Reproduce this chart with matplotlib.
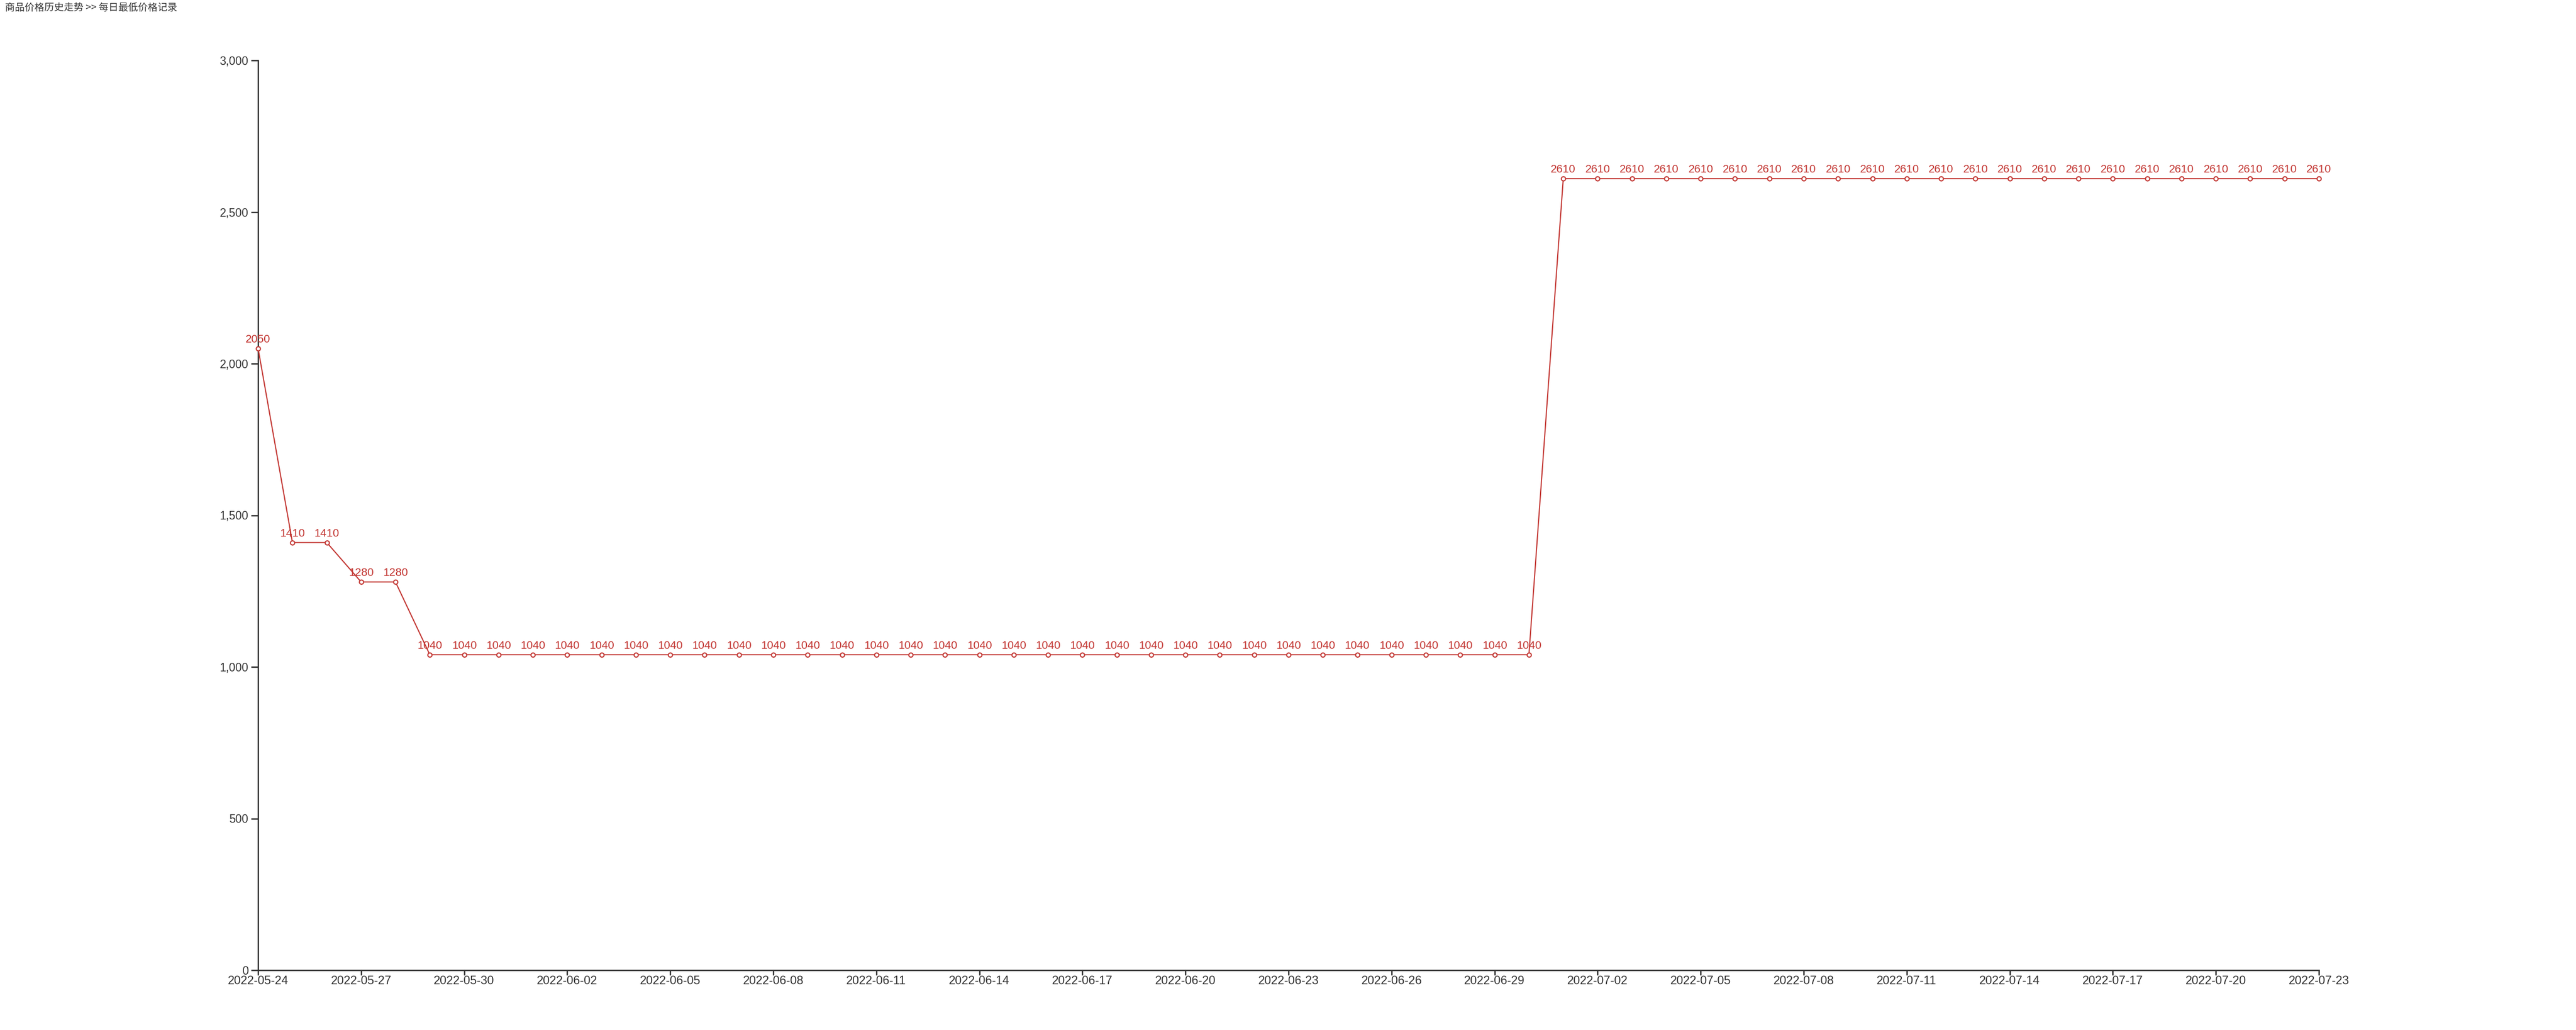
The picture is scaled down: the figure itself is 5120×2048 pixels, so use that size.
import datetime as dt
import matplotlib
matplotlib.use("Agg")
import matplotlib.pyplot as plt
import matplotlib.dates as mdates
from matplotlib.ticker import FuncFormatter, MultipleLocator

# daily prices, 2022-05-24 .. 2022-07-23
start = dt.date(2022, 5, 24)
prices = [2050, 1410, 1410, 1280, 1280] + [1040] * 33 + [2610] * 23
dates = [start + dt.timedelta(days=i) for i in range(len(prices))]

title = "商品价格历史走势 >> 每日最低价格记录"

red = "#c23531"
dark = "#333333"

plt.rcParams["font.family"] = ["Liberation Sans", "Noto Sans CJK SC", "DejaVu Sans"]
plt.rcParams["xtick.labelsize"] = 17
plt.rcParams["ytick.labelsize"] = 16.5

fig = plt.figure(figsize=(51.2, 20.48), dpi=100)
ax = fig.add_axes([513 / 5120, 119 / 2048, 4096 / 5120, 1809 / 2048])

ax.plot(dates, prices, color=red, lw=1.6, marker="o", ms=6,
        mfc="white", mec=red, mew=1.6, zorder=3, clip_on=False)

for d, p in zip(dates, prices):
    ax.annotate(str(p), (d, p), xytext=(0, 8.5), textcoords="offset points",
                ha="center", va="baseline", color=red, fontsize=16)

ax.set_xlim(dates[0], dates[-1])
ax.set_ylim(0, 3000)
ax.yaxis.set_major_locator(MultipleLocator(500))
ax.yaxis.set_major_formatter(FuncFormatter(lambda v, _: f"{int(v):,}"))
ax.set_xticks(dates[::3])
ax.xaxis.set_major_formatter(mdates.DateFormatter("%Y-%m-%d"))

for s in ["top", "right"]:
    ax.spines[s].set_visible(False)
for s in ["left", "bottom"]:
    ax.spines[s].set_color(dark)
    ax.spines[s].set_linewidth(2)
ax.tick_params(axis="y", colors=dark, length=10, width=2, pad=4)
ax.tick_params(axis="x", colors=dark, length=7, width=2, pad=1)

fig.text(10 / 5120, 1 - 15 / 2048, title, ha="left", va="center",
         fontsize=14, color=dark, family=["Noto Sans CJK SC", "DejaVu Sans"])

fig.savefig("out.png", dpi=100)
